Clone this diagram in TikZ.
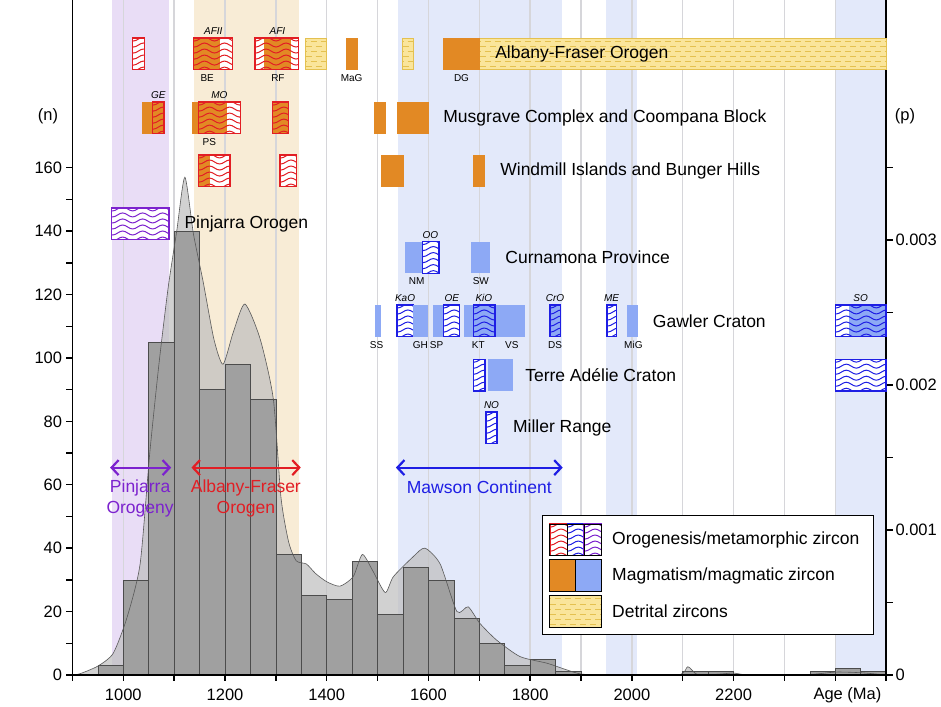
\documentclass[tikz,border=0pt]{standalone}
\usepackage{fontspec}
\setmainfont{Liberation Sans}
\usetikzlibrary{arrows.meta,decorations.pathmorphing}
\definecolor{magorange}{RGB}{226,137,36}
\definecolor{magblue}{RGB}{141,169,245}
\definecolor{afred}{RGB}{226,30,36}
\definecolor{mwblue}{RGB}{30,30,228}
\definecolor{pjpurple}{RGB}{124,34,206}
\definecolor{detfill}{RGB}{250,229,155}
\definecolor{detline}{RGB}{228,193,80}
\definecolor{pjband}{RGB}{233,221,246}
\definecolor{afband}{RGB}{248,236,214}
\definecolor{mwband}{RGB}{227,233,250}
\definecolor{gridgray}{RGB}{214,214,218}
\definecolor{kdegray}{RGB}{190,190,190}
\definecolor{bargray}{RGB}{160,160,160}

% row heights (n units)
\newcommand{\rowAF}{195.9}
\newcommand{\rowMC}{175.7}
\newcommand{\rowWI}{159.0}
\newcommand{\rowPJ}{142.3}
\newcommand{\rowCP}{131.7}
\newcommand{\rowGC}{111.7}
\newcommand{\rowTA}{94.6}
\newcommand{\rowMR}{77.9}

\newcommand{\magbox}[4]{\fill[#4] (#1,#3-5) rectangle (#2,#3+5);}
\newcommand{\orobox}[5]{%
  \fill[white] (#1,#3-5) rectangle (#2,#3+5);
  #5
  \begin{scope}
    \clip (#1,#3-5) rectangle (#2,#3+5);
    \foreach \k in {-3,...,2}
      \draw[wave, #4] (#1-30,#3+0.9+\k*1.9) -- (#2+30,#3+0.9+\k*1.9);
  \end{scope}
  \draw[oroedge, #4] (#1,#3-5) rectangle (#2,#3+5);
}
\newcommand{\detbox}[3]{%
  \fill[detfill] (#1,#3-5) rectangle (#2,#3+5);
  \begin{scope}
    \clip (#1,#3-5) rectangle (#2,#3+5);
    \foreach \k in {-4,-0.8,2.4}
      \draw[detdash] (#1,#3+\k) -- (#2,#3+\k);
    \foreach \k in {-2.4,0.8,4}
      \draw[detdash, dash phase=5pt] (#1,#3+\k) -- (#2,#3+\k);
  \end{scope}
  \draw[detline, line width=1pt] (#1,#3-5) rectangle (#2,#3+5);
}
\newcommand{\kdecurve}{plot[smooth, tension=0.4] coordinates {
  (900,0) (915,0.4) (950,2.8) (980,6.8) (1007,18) (1033,35) (1052,70)
  (1070,98) (1088,122) (1105,140) (1121,157) (1138,139) (1157,124)
  (1178,106) (1196,98) (1216,108) (1239,117) (1269,106) (1295,87)
  (1310,56) (1325,42) (1340,36) (1360,35) (1378,32) (1400,29.4)
  (1426,28) (1452,31) (1470,38) (1490,33) (1515,26) (1531,31)
  (1570,37.3) (1593,40) (1623,35) (1656,20) (1678,21.5) (1701,16.3)
  (1734,11) (1780,5.8) (1833,3.7) (1872,1.6) (1900,0.3) (1950,0)
  (2090,0) (2110,2.6) (2130,0) (2175,0.3) (2200,0.6) (2230,0)
  (2340,0) (2400,0.9) (2450,0.7) (2500,0)}}

\begin{document}
\begin{tikzpicture}[x=0.5085pt, y=3.17pt,
    font=\fontsize{17.5}{21}\selectfont,
    wave/.style={decorate, decoration={snake, amplitude=2pt,
      segment length=20pt}, line width=1pt},
    oroedge/.style={line width=1.3pt},
    detdash/.style={detline, line width=0.8pt, dash pattern=on 6pt off 4pt},
    agetag/.style={font=\fontsize{10}{12}\selectfont\itshape, inner sep=0pt},
    sitetag/.style={font=\fontsize{10}{12}\selectfont, inner sep=0pt},
    region/.style={anchor=west, inner sep=0pt},
    axnum/.style={font=\fontsize{16.5}{20}\selectfont, inner sep=0pt},
    axline/.style={line width=1.4pt, line cap=rect},
    grid line/.style={gridgray, line width=1.4pt},
    histbar/.style={draw=black!70, fill=bargray, line width=0.6pt},
    kdeline/.style={black!65, line width=0.6pt},
    span/.style={{Straight Barb[length=7pt,width=15pt]}-{Straight Barb[length=7pt,width=15pt]},
      line width=2.2pt},
    legedge/.style={black, line width=1pt}
  ]
  \useasboundingbox (757.5,-10.1) rectangle (2607.9,212.9);
  \fill[white] (757.5,-10.1) rectangle (2607.9,212.9);

  % age bands
  \fill[pjband] (977,0) rectangle (1090,212.9);
  \fill[afband] (1138,0) rectangle (1345,212.9);
  \fill[mwband] (1541,0) rectangle (1862,212.9);
  \fill[mwband] (1950,0) rectangle (2010,212.9);
  \fill[mwband] (2400,0) rectangle (2500,212.9);
  \foreach \a in {1000,1100,...,2400}
    \draw[grid line] (\a,0) -- (\a,212.9);

  % density curve and histogram
  \edef\kdefill{\noexpand\fill[kdegray, fill opacity=0.7] \kdecurve -- cycle;}
  \kdefill
  \foreach \a/\h in {950/3, 1000/30, 1050/105, 1100/140, 1150/90, 1200/98,
      1250/87, 1300/38, 1350/25, 1400/24, 1450/36, 1500/19, 1550/34,
      1600/30, 1650/18, 1700/10, 1750/3, 1800/5, 1850/1, 2100/1, 2150/1,
      2350/1, 2400/2, 2450/1}
    \draw[histbar] (\a,0) rectangle ++(50,\h);
  \edef\kdedraw{\noexpand\draw[kdeline] \kdecurve;}
  \kdedraw

  % axes
  \draw[axline] (900,212.9) -- (900,0) -- (2500,0) -- (2500,212.9);
  \foreach \a in {900,1000,...,2500}
    \draw[axline] (\a,0) -- (\a,-1.6);
  \foreach \a in {1000,1200,...,2200}
    \node[axnum] (x\a) at (\a,-6.4) {\a};
  \node[axnum] (xlab) at (2424,-6.4) {Age (Ma)};
  \foreach \n in {0,10,...,160}
    \draw[axline] (900,\n) -- (888,\n);
  \foreach \n in {0,20,...,160}
    \node[axnum, anchor=east] (y\n) at (880,\n) {\n};
  \foreach \p in {0,...,7}
    \draw[axline] (2500,\p*22.87) -- (2512,\p*22.87);
  \node[axnum, anchor=west] (p0) at (2518,0) {0};
  \node[axnum, anchor=west] (p1) at (2518,45.74) {0.001};
  \node[axnum, anchor=west] (p2) at (2518,91.48) {0.002};
  \node[axnum, anchor=west] (p3) at (2518,137.22) {0.003};
  \node[axnum] (nlab) at (852,176.3) {(n)};
  \node[axnum] (plab) at (2537,176.3) {(p)};

  % Albany-Fraser Orogen
  \orobox{1018}{1041}{\rowAF}{afred}{}
  \orobox{1138}{1214}{\rowAF}{afred}{\magbox{1138}{1190}{\rowAF}{magorange}}
  \orobox{1259}{1345}{\rowAF}{afred}{\magbox{1277}{1329}{\rowAF}{magorange}}
  \detbox{1359}{1400}{\rowAF}
  \magbox{1437}{1461}{\rowAF}{magorange}
  \detbox{1549}{1570}{\rowAF}
  \detbox{1701}{2500}{\rowAF}
  \magbox{1629}{1701}{\rowAF}{magorange}
  \node[agetag] (tAFII) at (1177,\rowAF+7.2) {AFII};
  \node[agetag] (tAFI) at (1303,\rowAF+7.2) {AFI};
  \node[sitetag] (sBE) at (1165,\rowAF-7.6) {BE};
  \node[sitetag] (sRF) at (1304,\rowAF-7.6) {RF};
  \node[sitetag] (sMaG) at (1449,\rowAF-7.6) {MaG};
  \node[sitetag] (sDG) at (1665,\rowAF-7.6) {DG};
  \node[region] (nAF) at (1731,\rowAF) {Albany-Fraser Orogen};

  % Musgrave Complex
  \orobox{1057}{1080}{\rowMC}{afred}{\magbox{1037}{1080}{\rowMC}{magorange}}
  \orobox{1148}{1230}{\rowMC}{afred}{\magbox{1136}{1203}{\rowMC}{magorange}}
  \orobox{1294}{1325}{\rowMC}{afred}{\magbox{1294}{1325}{\rowMC}{magorange}}
  \magbox{1493}{1516}{\rowMC}{magorange}
  \magbox{1538}{1601}{\rowMC}{magorange}
  \node[agetag] (tGE) at (1069,\rowMC+7.2) {GE};
  \node[agetag] (tMO) at (1189,\rowMC+7.2) {MO};
  \node[sitetag] (sPS) at (1169,\rowMC-7.6) {PS};
  \node[region] (nMC) at (1629,\rowMC) {Musgrave Complex and Coompana Block};

  % Windmill Islands
  \orobox{1148}{1210}{\rowWI}{afred}{\magbox{1148}{1170}{\rowWI}{magorange}}
  \orobox{1308}{1341}{\rowWI}{afred}{}
  \magbox{1507}{1551}{\rowWI}{magorange}
  \magbox{1688}{1711}{\rowWI}{magorange}
  \node[region] (nWI) at (1741,\rowWI) {Windmill Islands and Bunger Hills};

  % Pinjarra Orogen
  \orobox{977}{1090}{\rowPJ}{pjpurple}{}
  \node[region] (nPJ) at (1120,\rowPJ) {Pinjarra Orogen};

  % Curnamona Province
  \magbox{1553}{1590}{\rowCP}{magblue}
  \orobox{1588}{1621}{\rowCP}{mwblue}{}
  \magbox{1684}{1722}{\rowCP}{magblue}
  \node[agetag] (tOO) at (1604,\rowCP+7.2) {OO};
  \node[sitetag] (sNM) at (1577,\rowCP-7.6) {NM};
  \node[sitetag] (sSW) at (1703,\rowCP-7.6) {SW};
  \node[region] (nCP) at (1751,\rowCP) {Curnamona Province};

  % Gawler Craton
  \magbox{1494}{1506}{\rowGC}{magblue}
  \orobox{1538}{1570}{\rowGC}{mwblue}{}
  \magbox{1570}{1600}{\rowGC}{magblue}
  \magbox{1608}{1629}{\rowGC}{magblue}
  \orobox{1629}{1661}{\rowGC}{mwblue}{}
  \magbox{1669}{1790}{\rowGC}{magblue}
  \orobox{1688}{1731}{\rowGC}{mwblue}{\magbox{1688}{1731}{\rowGC}{magblue}}
  \orobox{1839}{1860}{\rowGC}{mwblue}{\magbox{1839}{1860}{\rowGC}{magblue}}
  \orobox{1951}{1970}{\rowGC}{mwblue}{}
  \magbox{1990}{2012}{\rowGC}{magblue}
  \orobox{2400}{2500}{\rowGC}{mwblue}{\magbox{2426}{2500}{\rowGC}{magblue}}
  \node[agetag] (tKaO) at (1554,\rowGC+7.2) {KaO};
  \node[agetag] (tOE) at (1646,\rowGC+7.2) {OE};
  \node[agetag] (tKiO) at (1709,\rowGC+7.2) {KiO};
  \node[agetag] (tCrO) at (1849,\rowGC+7.2) {CrO};
  \node[agetag] (tME) at (1960,\rowGC+7.2) {ME};
  \node[agetag] (tSO) at (2450,\rowGC+7.2) {SO};
  \node[sitetag] (sSS) at (1498,\rowGC-7.6) {SS};
  \node[sitetag] (sGH) at (1584,\rowGC-7.6) {GH};
  \node[sitetag] (sSP) at (1616,\rowGC-7.6) {SP};
  \node[sitetag] (sKT) at (1698,\rowGC-7.6) {KT};
  \node[sitetag] (sVS) at (1764,\rowGC-7.6) {VS};
  \node[sitetag] (sDS) at (1849,\rowGC-7.6) {DS};
  \node[sitetag] (sMiG) at (2003,\rowGC-7.6) {MiG};
  \node[region] (nGC) at (2041,\rowGC) {Gawler Craton};

  % Terre Adelie Craton
  \orobox{1688}{1711}{\rowTA}{mwblue}{}
  \magbox{1718}{1767}{\rowTA}{magblue}
  \orobox{2400}{2500}{\rowTA}{mwblue}{}
  \node[region] (nTA) at (1790,\rowTA) {Terre Adélie Craton};

  % Miller Range
  \orobox{1713}{1735}{\rowMR}{mwblue}{}
  \node[agetag] (tNO) at (1724,\rowMR+7.2) {NO};
  \node[region] (nMR) at (1766,\rowMR) {Miller Range};

  % orogenies
  \coordinate (pjL) at (974,65.4);
  \coordinate (pjR) at (1094,65.4);
  \coordinate (afL) at (1134,65.4);
  \coordinate (afR) at (1349,65.4);
  \coordinate (mwL) at (1536,65.4);
  \coordinate (mwR) at (1864,65.4);
  \draw[span, pjpurple] (pjL) -- (pjR);
  \draw[span, afred] (afL) -- (afR);
  \draw[span, mwblue] (mwL) -- (mwR);
  \node[text=pjpurple, align=center, inner sep=0pt] (oPJ) at (1033,55.8)
    {Pinjarra\\Orogeny};
  \node[text=afred, align=center, inner sep=0pt] (oAF) at (1241,55.8)
    {Albany-Fraser\\Orogen};
  \node[text=mwblue, inner sep=0pt] (oMW) at (1700,59.1) {Mawson Continent};

  % legend
  \draw[legedge, fill=white, line width=1.3pt] (1824,12.8) rectangle (2475,50.2);
  \orobox{1839}{1873}{42.6}{afred}{}
  \orobox{1873}{1906}{42.6}{mwblue}{}
  \orobox{1906}{1940}{42.6}{pjpurple}{}
  \draw[legedge] (1839,37.6) rectangle (1873,47.6);
  \draw[legedge] (1873,37.6) rectangle (1906,47.6);
  \draw[legedge] (1906,37.6) rectangle (1940,47.6);
  \magbox{1839}{1889}{31.3}{magorange}
  \magbox{1889}{1940}{31.3}{magblue}
  \draw[legedge] (1839,26.3) rectangle (1889,36.3);
  \draw[legedge] (1889,26.3) rectangle (1940,36.3);
  \detbox{1839}{1940}{20.0}
  \draw[legedge] (1839,15) rectangle (1940,25);
  \node[region] (lgOro) at (1961,42.6) {Orogenesis/metamorphic zircon};
  \node[region] (lgMag) at (1961,31.2) {Magmatism/magmatic zircon};
  \node[region] (lgDet) at (1961,20.1) {Detrital zircons};
\end{tikzpicture}
\end{document}
